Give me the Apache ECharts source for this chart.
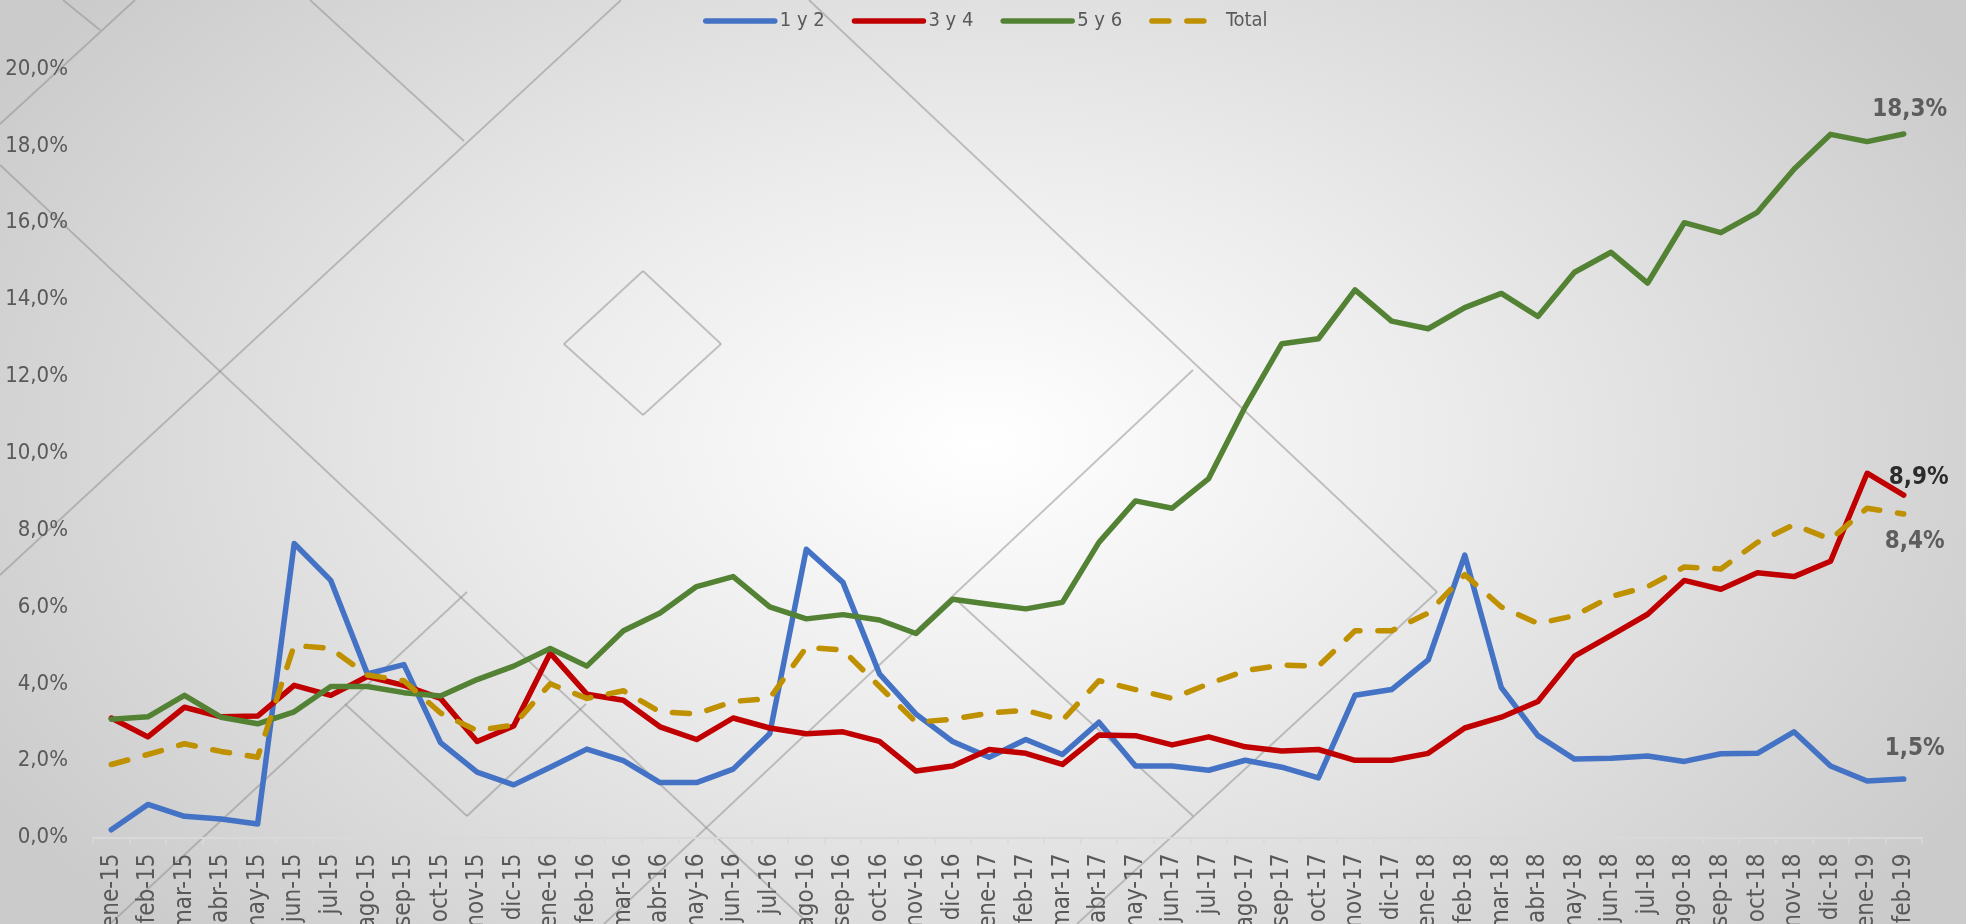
<!DOCTYPE html>
<html>
<head>
<meta charset="utf-8">
<script src="https://cdn.jsdelivr.net/npm/echarts@6/dist/echarts.min.js"></script>
<style>
html,body{margin:0;padding:0;width:1966px;height:924px;overflow:hidden;}
body{background:radial-gradient(ellipse 58% 78% at 50% 48%, #ffffff 0%, #ececec 40%, #d6d6d6 80%, #cbcbcb 100%);}
#chart{width:1966px;height:924px;}
</style>
</head>
<body>
<div id="chart"></div>
<script>
const categories = ['ene-15','feb-15','mar-15','abr-15','may-15','jun-15','jul-15','ago-15','sep-15','oct-15','nov-15','dic-15',
'ene-16','feb-16','mar-16','abr-16','may-16','jun-16','jul-16','ago-16','sep-16','oct-16','nov-16','dic-16',
'ene-17','feb-17','mar-17','abr-17','may-17','jun-17','jul-17','ago-17','sep-17','oct-17','nov-17','dic-17',
'ene-18','feb-18','mar-18','abr-18','may-18','jun-18','jul-18','ago-18','sep-18','oct-18','nov-18','dic-18',
'ene-19','feb-19'];

const seriesNames = ['1 y 2','3 y 4','5 y 6','Total'];

const s1y2 = [0.20,0.86,0.55,0.48,0.35,7.65,6.69,4.26,4.50,2.47,1.70,1.37,
1.83,2.30,2.00,1.43,1.43,1.78,2.70,7.50,6.64,4.26,3.21,2.50,
2.09,2.55,2.16,3.00,1.86,1.86,1.75,2.01,1.83,1.55,3.70,3.85,
4.62,7.35,3.90,2.65,2.04,2.06,2.12,1.98,2.18,2.19,2.75,1.86,
1.47,1.52];

const s3y4 = [3.11,2.62,3.39,3.14,3.16,3.96,3.70,4.19,3.96,3.62,2.50,2.90,
4.80,3.73,3.57,2.88,2.55,3.11,2.85,2.70,2.75,2.50,1.73,1.86,
2.29,2.19,1.90,2.67,2.65,2.41,2.62,2.36,2.25,2.29,2.01,2.01,
2.19,2.85,3.13,3.54,4.72,5.26,5.81,6.69,6.46,6.89,6.79,7.19,
9.48,8.91];

const s5y6 = [3.08,3.14,3.70,3.13,2.96,3.27,3.93,3.93,3.77,3.68,4.11,4.46,
4.92,4.46,5.38,5.84,6.53,6.79,6.00,5.69,5.80,5.66,5.31,6.20,
6.07,5.95,6.12,7.68,8.76,8.57,9.34,11.21,12.85,12.98,14.25,13.44,
13.24,13.79,14.16,13.56,14.71,15.23,14.43,16.00,15.74,16.27,17.39,18.30,
18.11,18.31];

const sTotal = [1.90,2.16,2.44,2.24,2.09,5.00,4.92,4.23,4.08,3.24,2.78,2.93,
4.00,3.62,3.82,3.27,3.22,3.54,3.62,4.95,4.88,3.93,3.00,3.08,
3.24,3.31,3.05,4.08,3.85,3.62,4.00,4.34,4.49,4.46,5.38,5.38,
5.84,6.84,6.00,5.57,5.77,6.27,6.53,7.04,6.99,7.68,8.14,7.76,
8.57,8.42];

const seriesColors = ['#4472C4','#C00000','#548235','#BF9000'];

const FONT = "'Liberation Sans Narrow','DejaVu Sans Condensed','Liberation Sans',sans-serif";
const fmt = v => v.toFixed(1).replace('.', ',') + '%';

// decorative background lines (not data)
const decor = [
  [[63,0],[100,30]],
  [[0,124],[135,0]],
  [[0,165],[809,924]],
  [[310,0],[464,141]],
  [[0,575],[621,0]],
  [[809,0],[1437,592]],
  [[1193,370],[604,924]],
  [[1077,924],[1437,592]],
  [[953,597],[1193,816]],
  [[643,271],[721,344]],[[721,344],[643,415]],[[643,415],[564,344]],[[564,344],[643,271]],
  [[467,592],[110,924]],[[586,704],[467,816]],[[467,816],[345,704]]
];

const allSeries = [s1y2, s3y4, s5y6, sTotal];
const last = categories.length - 1;
const endLabelStyle = [
  { offset:[11,-30], color:'#404040' },
  { offset:[15,-17], color:'#000000' },
  { offset:[6,-24],  color:'#404040' },
  { offset:[11,28],  color:'#404040' }
];
const endLabelData = allSeries.map((arr, k) => ({
  value: [categories[last], arr[last]],
  label: Object.assign({ show:true, position:'inside', formatter: p => fmt(p.value[1]),
    fontFamily: FONT, fontWeight:'bold', fontSize: 24 }, endLabelStyle[k])
}));

const chart = echarts.init(document.getElementById('chart'), null, {renderer:'canvas'});

const lineSeries = seriesNames.map((name, k) => ({
  type:'line', name, data: allSeries[k], symbol:'none', showSymbol:false, animation:false,
  itemStyle:{ color: seriesColors[k] },
  lineStyle: Object.assign({ color: seriesColors[k], width:5.5, cap:'round', join:'round' },
    k === 3 ? { type:[17,18] } : {})
}));

chart.setOption({
  backgroundColor: 'transparent',
  animation: false,
  graphic: decor.map(d => ({
    type:'line', silent:true, z:-10,
    shape:{x1:d[0][0], y1:d[0][1], x2:d[1][0], y2:d[1][1]},
    style:{stroke:'rgba(140,140,140,0.5)', lineWidth:1.8}
  })),
  legend: {
    data: seriesNames,
    top: 5, left: 698,
    itemWidth: 69, itemHeight: 14, itemGap: 27,
    itemStyle: { opacity: 0 },
    lineStyle: { width: 5.5 },
    textStyle: { fontFamily: FONT, fontSize: 20, color: '#595959', lineHeight: 22 }
  },
  grid: { left: 93, right: 44, top: 69, bottom: 86.5, containLabel: false, outerBoundsMode: 'none' },
  xAxis: {
    type: 'category', data: categories, boundaryGap: true,
    axisLine: { show: true, lineStyle: { color: '#d9d9d9', width: 2 } },
    axisTick: { show: true, length: 7, lineStyle: { color: '#d9d9d9', width: 1.5 } },
    axisLabel: { interval: 0, rotate: 90, margin: 16, fontFamily: FONT, fontSize: 24, color: '#595959' },
    splitLine: { show: false }
  },
  yAxis: {
    type: 'value', min: 0, max: 20, interval: 2,
    axisLine: { show: false }, axisTick: { show: false },
    splitLine: { show: false },
    axisLabel: { margin: 25, fontFamily: FONT, fontSize: 22, color: '#595959', formatter: v => fmt(v) }
  },
  series: lineSeries.concat([{
    type:'scatter', name:'endLabels', data: endLabelData, symbolSize: 0, silent:true,
    itemStyle:{ color:'transparent' }, animation:false, z: 5
  }])
});
</script>
</body>
</html>
